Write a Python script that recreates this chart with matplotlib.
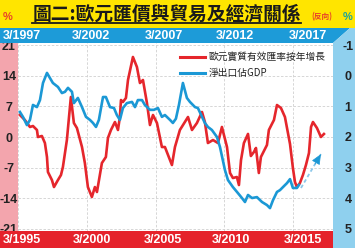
import matplotlib
matplotlib.use("Agg")
import matplotlib.pyplot as plt
from matplotlib.patches import Rectangle, Polygon
from matplotlib.lines import Line2D
from matplotlib.transforms import ScaledTranslation
from matplotlib.font_manager import FontProperties

# ---------------- data ----------------
title = "圖二:歐元匯價與貿易及經濟關係"
red_label = "歐元實質有效匯率按年增長"
blue_label = "淨出口佔GDP"

# Euro real effective exchange rate, y/y % (bottom date axis, left scale)
red_dates = [1995.29, 1995.65, 1996.02, 1996.24, 1996.53, 1996.60, 1996.89, 1997.11,
             1997.26, 1997.33, 1997.62, 1997.77, 1998.06, 1998.28, 1998.42, 1998.71,
             1999.00, 1999.22, 1999.44, 1999.81, 2000.02, 2000.24, 2000.53, 2000.75,
             2000.90, 2001.26, 2001.55, 2001.70, 2001.92, 2002.21, 2002.43, 2002.57,
             2002.65, 2002.79, 2003.01, 2003.16, 2003.52, 2003.81, 2004.03, 2004.25,
             2004.54, 2004.76, 2004.98, 2005.27, 2005.63, 2005.85, 2006.36, 2006.58,
             2006.94, 2007.53, 2007.82, 2008.18, 2008.55, 2008.76, 2008.98, 2009.35,
             2009.71, 2010.00, 2010.37, 2010.59, 2010.80, 2011.09, 2011.24, 2011.39,
             2011.60, 2011.90, 2012.11, 2012.33, 2012.48, 2012.69, 2012.84, 2013.06,
             2013.28, 2013.42, 2013.64, 2013.79, 2014.01, 2014.30, 2014.59, 2014.96,
             2015.17, 2015.32, 2015.46, 2015.68, 2015.90, 2016.12, 2016.34, 2016.49,
             2016.63, 2016.92, 2017.21, 2017.43]
red_vals = [5.05, 3.90, 2.30, 2.52, 1.61, 0.00, 0.23, -1.38,
            -4.59, -8.03, -9.87, -11.48, -9.87, -8.72, -6.89, -0.69,
            9.18, 3.21, 2.07, -2.30, -5.97, -11.48, -13.77, -11.48,
            -12.62, -5.97, -4.59, -0.23, 1.61, 3.44, 1.61, 4.59,
            8.49, 8.03, 8.95, 13.08, 18.36, 16.07, 12.39, 13.08,
            7.80, 2.75, 5.05, 3.21, -2.30, -2.30, -6.43, -2.30,
            1.61, 4.59, 1.61, 3.21, 5.74, 3.44, -1.38, -0.69,
            -1.38, 2.30, -2.30, -8.26, -9.41, -9.18, -11.02, -5.30,
            -1.40, 0.70, -4.36, -3.44, -2.52, -8.26, -4.59, -3.21,
            -1.84, 1.61, 2.98, 3.90, 7.34, 6.66, 4.59, -1.61,
            -7.11, -10.33, -11.48, -10.56, -8.72, -6.43, -3.67, 2.30,
            3.44, 2.07, 0.00, 0.69]

# Net exports as % of GDP (top date axis, right reversed scale)
blue_dates = [1997.29, 1997.51, 1997.80, 1998.02, 1998.24, 1998.53, 1998.75, 1998.97,
              1999.26, 1999.48, 1999.69, 2000.06, 2000.35, 2000.57, 2000.79, 2001.08,
              2001.22, 2001.51, 2001.81, 2002.10, 2002.39, 2002.61, 2002.83, 2003.04,
              2003.34, 2003.55, 2003.85, 2004.14, 2004.35, 2004.57, 2004.79, 2005.08,
              2005.45, 2005.67, 2005.88, 2006.18, 2006.39, 2006.76, 2007.05, 2007.34,
              2007.63, 2007.85, 2008.22, 2008.43, 2008.65, 2008.87, 2009.16, 2009.45,
              2009.67, 2010.04, 2010.25, 2010.55, 2010.76, 2010.98, 2011.27, 2011.64,
              2011.86, 2012.22, 2012.44, 2012.80, 2013.17, 2013.46, 2013.68, 2013.90,
              2014.19, 2014.55, 2014.92, 2015.28, 2015.50, 2015.72, 2016.01, 2016.23,
              2016.45, 2016.74, 2016.96, 2017.17, 2017.46, 2017.61]
blue_vals = [1.18, 1.34, 1.61, 1.44, 0.95, 1.02, 0.79, 0.23,
             -0.10, 0.07, 0.23, 0.36, 0.56, 0.52, 0.39, 0.52,
             0.89, 0.72, 1.02, 1.34, 1.44, 1.54, 1.67, 1.44,
             0.69, 0.69, 1.02, 1.05, 1.28, 1.44, 1.05, 0.89,
             0.85, 1.02, 0.79, 0.79, 0.95, 1.11, 1.11, 1.05,
             1.34, 1.28, 1.44, 1.54, 1.40, 0.95, 0.23, 0.72,
             0.85, 1.02, 1.05, 1.34, 1.54, 1.67, 1.77, 2.00,
             2.33, 3.08, 3.41, 3.64, 3.84, 4.00, 4.13, 3.90,
             4.00, 3.97, 4.13, 4.23, 4.33, 4.07, 3.80, 3.74,
             3.64, 3.51, 3.38, 3.67, 3.67, 3.57]

# projected direction arrow for net exports (top date axis, right scale)
arrow_from = (2017.76, 3.67)
arrow_to = (2019.21, 2.56)

bottom_ticks = [1995.17, 2000.17, 2005.17, 2010.17, 2015.17]
bottom_labels = ["3/1995", "3/2000", "3/2005", "3/2010", "3/2015"]
top_ticks = [1997.17, 2002.17, 2007.17, 2012.17, 2017.17]
top_labels = ["3/1997", "3/2002", "3/2007", "3/2012", "3/2017"]
left_ticks = [-21, -14, -7, 0, 7, 14, 21]
left_labels = ["-21", "-14", "-7", "0", "7", "14", "21"]
right_ticks = [-1, 0, 1, 2, 3, 4, 5]
right_labels = ["-1", "0", "1", "2", "3", "4", "5"]

# ---------------- style ----------------
YELLOW = "#FFE500"
TOPBLUE = "#1D9BD8"
LIGHTBLUE = "#8FD0EE"
PINK = "#F3A5AD"
REDBAND = "#E5222B"
RED = "#E5262C"
BLUE = "#1B98D5"
LATIN = "Liberation Sans"
CJK = ["Noto Sans CJK TC", "DejaVu Sans"]

bottom_shift_px = [4, 5, 7, 7, 10]
top_shift_px = [4, 4, 8, 11, 15]

W, H = 355, 248
fig = plt.figure(figsize=(W / 100, H / 100), dpi=100)
fig.patch.set_facecolor("white")


def fx(p):
    return p / W


def fy(p):
    return 1 - p / H


L, R, T, B = 18, 333, 43, 231
rect = [fx(L), fy(B), (R - L) / W, (B - T) / H]

# background panels
fig.add_artist(Rectangle((0, fy(28)), 1, 28 / H, transform=fig.transFigure,
                         facecolor=YELLOW, edgecolor="none", zorder=0.5))
fig.add_artist(Rectangle((0, fy(B)), fx(L), (B - T) / H, transform=fig.transFigure,
                         facecolor=PINK, edgecolor="none", zorder=0.5))
fig.add_artist(Polygon([(fx(0), fy(28)), (fx(350), fy(28)), (fx(R), fy(T)), (fx(0), fy(T))],
                       closed=True, transform=fig.transFigure,
                       facecolor=TOPBLUE, edgecolor="none", zorder=2))
fig.add_artist(Polygon([(fx(350), fy(28)), (fx(W), fy(28)), (fx(W), fy(H)), (fx(R), fy(H)),
                        (fx(R), fy(T))],
                       closed=True, transform=fig.transFigure,
                       facecolor=LIGHTBLUE, edgecolor="none", zorder=2))
fig.add_artist(Rectangle((0, 0), fx(R), (H - B) / H, transform=fig.transFigure,
                         facecolor=REDBAND, edgecolor="none", zorder=2))

# ---------------- main (red) axes ----------------
ax = fig.add_axes(rect, zorder=1)
ax.set_facecolor("white")
ax.set_xlim(1995.15, 2018.09)
ax.set_ylim(-21.57, 21.57)
ax.tick_params(length=0, pad=6.5)
ax.set_xticks(bottom_ticks)
ax.set_xticklabels([])
ax.set_yticks(left_ticks)
ax.set_yticklabels(left_labels, ha="center", fontsize=9, fontweight="bold",
                   family=LATIN, color="#222222")
ax.grid(True, ls=(0, (3, 2)), color="#d0d0d0", lw=0.6)
ax.set_axisbelow(True)
for s in ax.spines.values():
    s.set_visible(False)
ax.plot(red_dates, red_vals, color=RED, lw=1.9, solid_joinstyle="round", zorder=3)

# ---------------- overlay (blue) axes ----------------
axt = fig.add_axes(rect, zorder=3)
axt.set_facecolor("none")
axt.set_xlim(1997.15, 2020.09)
axt.set_ylim(5.08, -1.08)
for s in axt.spines.values():
    s.set_visible(False)
axt.xaxis.tick_top()
axt.yaxis.tick_right()
axt.tick_params(axis="x", length=0, pad=5)
axt.tick_params(axis="y", length=0, pad=10.8)
axt.set_xticks(top_ticks)
axt.set_xticklabels(top_labels, va="center", fontsize=9, fontweight="bold",
                    family=LATIN, color="white")
axt.set_yticks(right_ticks)
axt.set_yticklabels(right_labels, ha="center", fontsize=9, fontweight="bold",
                    family=LATIN, color="#222222")
axt.plot(blue_dates, blue_vals, color=BLUE, lw=1.9, solid_joinstyle="round", zorder=3)

for lab, dx in zip(axt.get_xticklabels(), top_shift_px):
    lab.set_transform(lab.get_transform() + ScaledTranslation(dx / 100, 0, fig.dpi_scale_trans))

sec = axt.secondary_xaxis("bottom", functions=(lambda x: x - 2, lambda x: x + 2))
for s in sec.spines.values():
    s.set_visible(False)
sec.tick_params(length=0, pad=6.5)
sec.set_xticks(bottom_ticks)
sec.set_xticklabels(bottom_labels, va="center", fontsize=9, fontweight="bold",
                    family=LATIN, color="white")
for lab, dx in zip(sec.get_xticklabels(), bottom_shift_px):
    lab.set_transform(lab.get_transform() + ScaledTranslation(dx / 100, 0, fig.dpi_scale_trans))

# projection arrow
axt.plot([arrow_from[0], arrow_to[0]], [arrow_from[1], arrow_to[1]],
         ls=(0, (2, 1.5)), color="#8CC8EA", lw=1.3, zorder=3)
hx = arrow_from[0] + 0.7 * (arrow_to[0] - arrow_from[0])
hy = arrow_from[1] + 0.7 * (arrow_to[1] - arrow_from[1])
axt.annotate("", xy=arrow_to, xytext=(hx, hy),
             arrowprops=dict(arrowstyle="-|>,head_length=0.8,head_width=0.35",
                             color=BLUE, lw=0.5, shrinkA=0, shrinkB=0,
                             mutation_scale=8))

# legend
h1 = Line2D([], [], color=RED, lw=2.2)
h2 = Line2D([], [], color=BLUE, lw=2.2)
leg = axt.legend([h1, h2], [red_label, blue_label], loc="upper left",
                 bbox_to_anchor=(fx(180), fy(52)), bbox_transform=fig.transFigure,
                 frameon=False, prop=FontProperties(family=CJK, size=7),
                 handlelength=2.6, handletextpad=0.35, labelspacing=0.65,
                 borderpad=0, borderaxespad=0)
for t in leg.get_texts():
    t.set_color("#222222")

# title & side units
ttl = fig.text(fx(166.5), fy(14), title, ha="center", va="center", fontsize=13.5,
               fontweight="bold", family=CJK, color="#1a1a1a", zorder=4)
fig.text(fx(8), fy(17), "%", ha="center", va="center", fontsize=8, fontweight="bold",
         family=LATIN, color="#E8412A", zorder=4)
fig.text(fx(322), fy(16.5), "(反向)", ha="center", va="center", fontsize=5.5,
         fontweight="bold", family=CJK, color="#E8412A", zorder=4)
fig.text(fx(348), fy(17), "%", ha="center", va="center", fontsize=8, fontweight="bold",
         family=LATIN, color="#1BA39C", zorder=4)

fig.canvas.draw()
bb = ttl.get_window_extent()
fig.add_artist(Line2D([bb.x0 / W, bb.x1 / W], [(bb.y0 + 1) / H] * 2,
                      transform=fig.transFigure, color="#1a1a1a", lw=1.3, zorder=4))

fig.savefig("out.png", dpi=100)
